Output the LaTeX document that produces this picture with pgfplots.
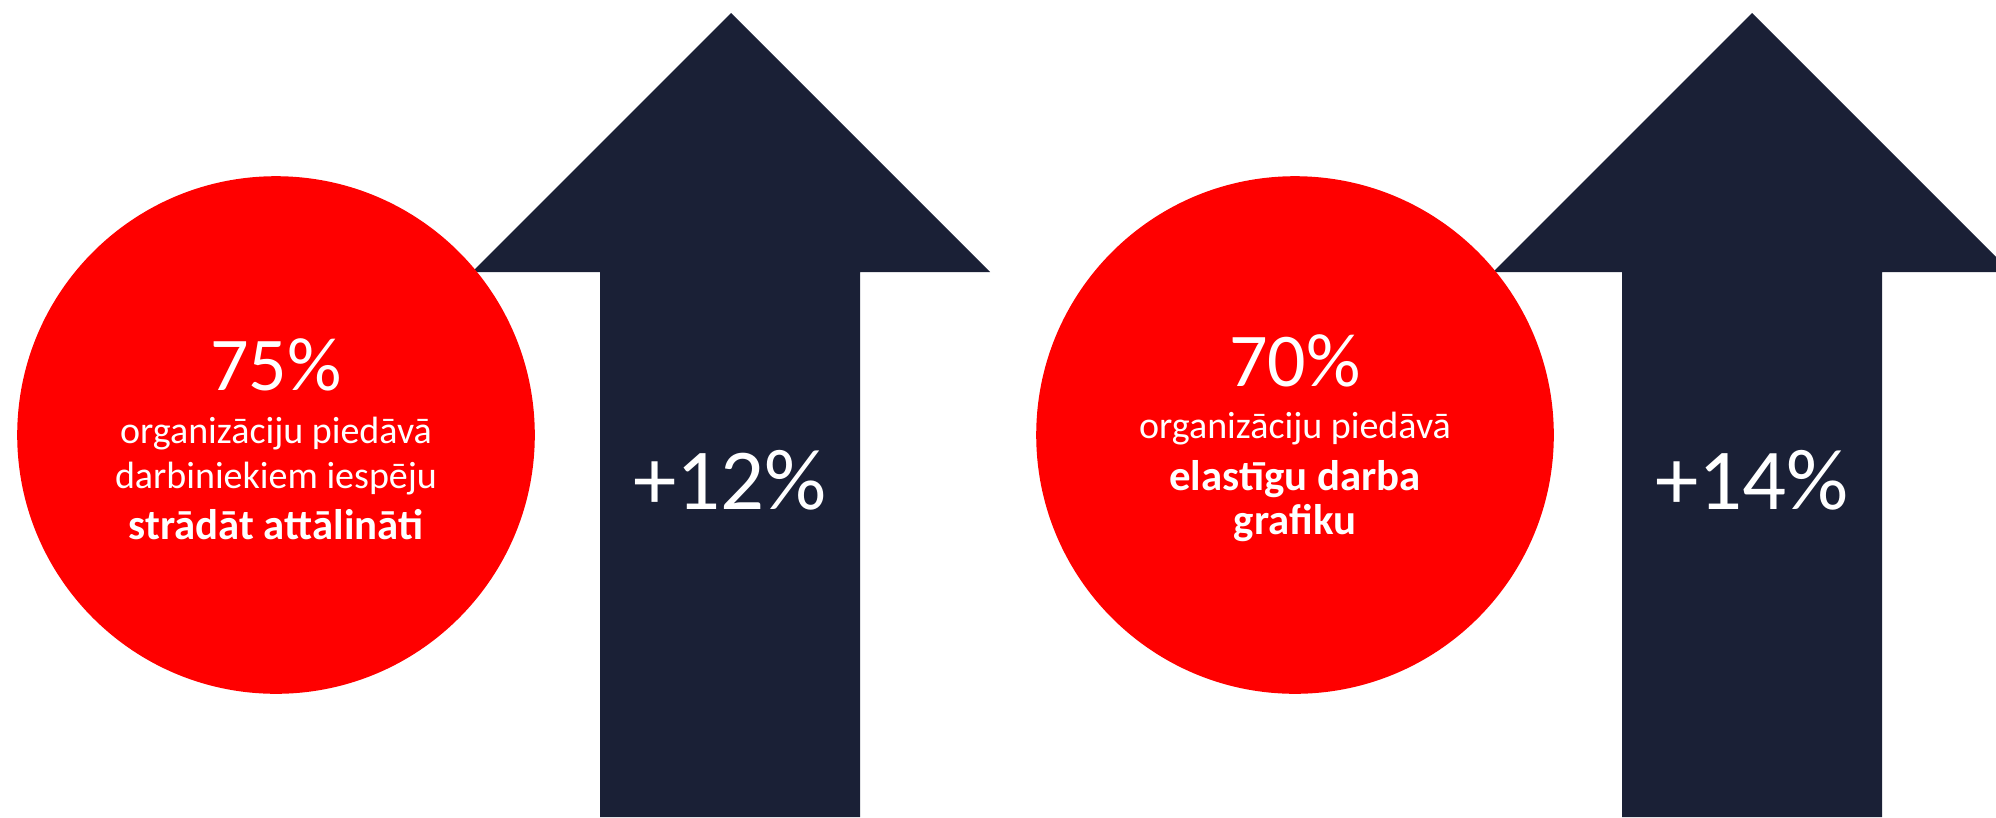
\documentclass[border=0pt]{standalone}
\usepackage{pgfplots}
\pgfplotsset{compat=1.18}
\usepackage{fontspec}
\setmainfont{Carlito}
\definecolor{navy}{RGB}{26,32,54}
\definecolor{circred}{RGB}{255,0,0}
\begin{document}
\begin{tikzpicture}
\begin{axis}[
    hide axis,
    scale only axis,
    width=499pt, height=204.25pt,
    xmin=0, xmax=1996, ymin=0, ymax=817,
    clip=false,
]
% arrows (pixel units, y up)
\addplot[fill=navy, draw=none] coordinates {
    (472,545) (731,804) (990,545) (860,545) (860,0) (600,0) (600,545)} -- cycle;
\addplot[fill=navy, draw=none] coordinates {
    (1493,545) (1752,804) (1996,560) (1996,545) (1882,545) (1882,0) (1622,0) (1622,545)} -- cycle;
% circles
\addplot[color=circred, only marks, mark=*, mark size=64.5pt,
    mark options={fill=circred, draw=circred}] coordinates {(276,382) (1295,382)};
% anchor points for the texts
\coordinate (c1a) at (axis cs:276,427);
\coordinate (c1b) at (axis cs:276,374);
\coordinate (c1c) at (axis cs:276,329);
\coordinate (c1d) at (axis cs:276,278);
\coordinate (c2a) at (axis cs:1295,431);
\coordinate (c2b) at (axis cs:1295,379);
\coordinate (c2c) at (axis cs:1295,327);
\coordinate (c2d) at (axis cs:1295,283);
\coordinate (a1) at (axis cs:730,308);
\coordinate (a2) at (axis cs:1752,308);
\end{axis}
\pgfresetboundingbox
\useasboundingbox (current axis.south west) rectangle (current axis.north east);
\tikzset{lbl/.style={anchor=base, text=white, inner sep=0pt}}
\node[lbl, font=\fontsize{19}{22}\selectfont] at (c1a) {75\%};
\node[lbl, font=\fontsize{9.5}{11}\selectfont] at (c1b) {organizāciju piedāvā};
\node[lbl, font=\fontsize{9.5}{11}\selectfont] at (c1c) {darbiniekiem iespēju};
\node[lbl, font=\fontsize{10.7}{12}\selectfont\bfseries] at (c1d) {strādāt attālināti};
\node[lbl, font=\fontsize{19}{22}\selectfont] at (c2a) {70\%};
\node[lbl, font=\fontsize{9.5}{11}\selectfont] at (c2b) {organizāciju piedāvā};
\node[lbl, font=\fontsize{10.7}{12}\selectfont\bfseries] at (c2c) {elastīgu darba};
\node[lbl, font=\fontsize{10.7}{12}\selectfont\bfseries] at (c2d) {grafiku};
\node[lbl, font=\fontsize{21.7}{25}\selectfont] at (a1) {+12\%};
\node[lbl, font=\fontsize{21.7}{25}\selectfont] at (a2) {+14\%};
\end{tikzpicture}
\end{document}
